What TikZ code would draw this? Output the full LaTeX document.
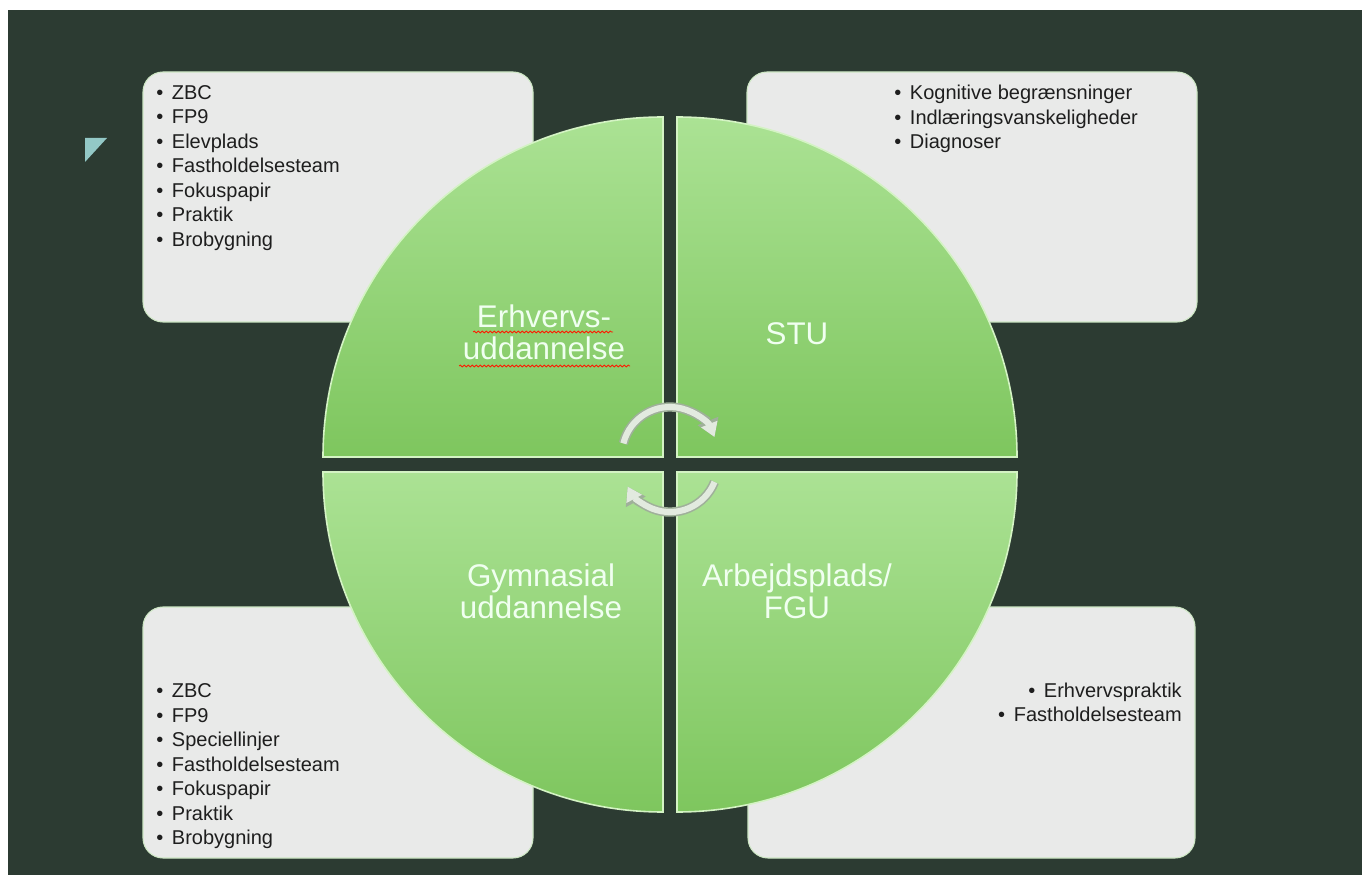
\documentclass[tikz,border=0pt]{standalone}
\usepackage{fontspec}
\setmainfont{Liberation Sans}
\usetikzlibrary{arrows.meta,decorations.pathmorphing}

\definecolor{slide}{HTML}{2C3B32}
\definecolor{boxfill}{HTML}{E9EAE9}
\definecolor{boxedge}{HTML}{CDE6C4}
\definecolor{quadlight}{HTML}{ABE294}
\definecolor{quaddark}{HTML}{7EC65E}
\definecolor{quadedge}{HTML}{D4F3C4}
\definecolor{marker}{HTML}{93C8C6}
\definecolor{arrowfill}{HTML}{E2EADF}
\definecolor{arrowedge}{HTML}{9FB09A}
\definecolor{listtext}{HTML}{1E1E1E}

\newcommand{\itm}[1]{\textbullet\hspace{6.5pt}#1}

\tikzset{
  infobox/.style={fill=boxfill, draw=boxedge, line width=0.8pt, rounded corners=15pt},
  itemlist/.style={inner sep=0pt, text=listtext, font=\fontsize{15}{18.4}\selectfont},
  quadlabel/.style={inner sep=0pt, text=white!94!green, align=center, font=\fontsize{23.5}{23.5}\selectfont},
  quad/.style={draw=quadedge, line width=1.2pt, top color=quadlight, bottom color=quaddark},
  cycleedge/.style={draw=arrowedge, line width=7pt, -{Triangle[length=13pt,width=16pt]}},
  cyclefill/.style={draw=arrowfill, line width=4.6pt, -{Triangle[length=10.5pt,width=12.5pt]}},
  spell/.style={draw=red!80!orange, line width=0.6pt, decorate, decoration={snake, segment length=3pt, amplitude=0.7pt}}
}

\begin{document}
\begin{tikzpicture}[x=0.75pt, y=0.75pt]
  % slide background
  \fill[white] (0,0) rectangle (1362,875);
  \fill[slide] (8,0) rectangle (1362,865);

  % corner marker
  \fill[marker] (85,737) -- (107,737) -- (85,713) -- cycle;

  % info boxes
  \draw[infobox] (143,553) rectangle (533,803);
  \draw[infobox] (747,553) rectangle (1197,803);
  \draw[infobox] (143,17) rectangle (533,268);
  \draw[infobox] (748,17) rectangle (1195,268);

  % quadrants
  \shadedraw[quad] (663,418) -- (323,418) arc[start angle=180, end angle=90, radius=255pt] -- cycle;
  \shadedraw[quad] (677,418) -- (677,758) arc[start angle=90, end angle=0, radius=255pt] -- cycle;
  \shadedraw[quad] (663,403) -- (663,63) arc[start angle=270, end angle=180, radius=255pt] -- cycle;
  \shadedraw[quad] (677,403) -- (1017,403) arc[start angle=0, end angle=-90, radius=255pt] -- cycle;

  % quadrant labels
  \node[quadlabel, anchor=north] (erhverv) at (544,570) {Erhvervs-\\uddannelse};
  \node[quadlabel, anchor=base] (stu) at (797,530) {STU};
  \node[quadlabel, anchor=north] (gymnasial) at (541,311) {Gymnasial\\uddannelse};
  \node[quadlabel, anchor=north] (arbejde) at (797,311) {Arbejdsplads/\\FGU};

  % spelling marks
  \draw[spell] (473,543) -- (613,543);
  \draw[spell] (459,509) -- (630,509);

  % cycle arrows
  \coordinate (cycletop) at (623.4,431.6);
  \coordinate (cyclebot) at (714.5,393);
  \draw[cycleedge] (cycletop) arc[start angle=166, end angle=22, radius=36pt];
  \draw[cyclefill] (cycletop) arc[start angle=166, end angle=22, radius=36pt];
  \draw[cycleedge] (cyclebot) arc[start angle=-22, end angle=-152, radius=36pt];
  \draw[cyclefill] (cyclebot) arc[start angle=-22, end angle=-152, radius=36pt];

  % lists
  \node[itemlist, anchor=north west, align=left] (erhvervlist) at (156,790)
    {\itm{ZBC}\\\itm{FP9}\\\itm{Elevplads}\\\itm{Fastholdelsesteam}\\\itm{Fokuspapir}\\\itm{Praktik}\\\itm{Brobygning}};
  \node[itemlist, anchor=north west, align=left] (stulist) at (894,790)
    {\itm{Kognitive begrænsninger}\\\itm{Indlæringsvanskeligheder}\\\itm{Diagnoser}};
  \node[itemlist, anchor=north west, align=left] (gymnasiallist) at (156,191.5)
    {\itm{ZBC}\\\itm{FP9}\\\itm{Speciellinjer}\\\itm{Fastholdelsesteam}\\\itm{Fokuspapir}\\\itm{Praktik}\\\itm{Brobygning}};
  \node[itemlist, anchor=north east, align=right] (arbejdelist) at (1182,192.5)
    {\itm{Erhvervspraktik}\\\itm{Fastholdelsesteam}};
\end{tikzpicture}
\end{document}
